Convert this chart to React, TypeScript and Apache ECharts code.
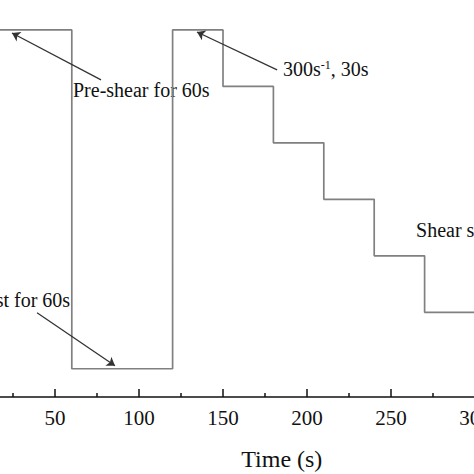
import React, { useEffect, useRef } from 'react';
import * as echarts from 'echarts';

// step protocol: start time of each segment (s) and its shear rate level
const segStart = [0, 60, 120, 150, 180, 210, 240, 270];
const segRate = [300, 0, 300, 250, 200, 150, 100, 50];
const endTime = 300;

// annotations in data units [time, rate]
const arrowTails = [[77.4, 255.8], [182.2, 264.6], [39.3, 49.6]];
const arrowTips = [[24.4, 297.3], [134.5, 298.2], [85.7, 2.7]];

const noteTexts = ['Pre-shear for 60s', '{a|300s}{sup|-1}{a|, 30s}', 'Rest for 60s', 'Shear steps'];
const notePos = [[60.7, 246.9], [185.7, 265.5], [59, 61], [264.9, 123]];
const noteAlign = ['left', 'left', 'right', 'left'];

const xTicks = { min: 0, max: 370, interval: 50 };

const FONT = "'Liberation Serif', 'Times New Roman', serif";

const App: React.FC = () => {
  const chartRef = useRef<HTMLDivElement>(null);

  useEffect(() => {
    if (!chartRef.current) return;
    const chart = echarts.init(chartRef.current, undefined, { renderer: 'svg' });

    const lineData = segStart.map((t, i) => [t, segRate[i]]);
    lineData.push([endTime, segRate[segRate.length - 1]]);

    const arrows = arrowTails.map((tail, i) => [
      { coord: tail, symbol: 'none' },
      { coord: arrowTips[i], symbol: 'arrow' },
    ]);

    const option: any = {
      animation: false,
      backgroundColor: '#fff',
      grid: { left: -29, top: 0, width: 621.6, height: 397, outerBoundsMode: 'none', containLabel: false },
      xAxis: {
        type: 'value',
        min: xTicks.min,
        max: xTicks.max,
        interval: xTicks.interval,
        name: 'Time (s)',
        nameLocation: 'middle',
        nameGap: 50,
        nameTextStyle: { fontFamily: FONT, fontSize: 24, color: '#111' },
        axisLine: { onZero: false, lineStyle: { color: '#111', width: 1.5 } },
        axisTick: { inside: true, length: 8, lineStyle: { color: '#111', width: 1.5 } },
        minorTick: { show: true, splitNumber: 2, length: 4, lineStyle: { color: '#111', width: 1.5 } },
        axisLabel: { fontFamily: FONT, fontSize: 21, color: '#111', margin: 10, showMinLabel: false },
        splitLine: { show: false },
      },
      yAxis: {
        type: 'value',
        min: -25,
        max: 326.5,
        show: false,
      },
      series: [
        {
          type: 'line',
          step: 'end',
          data: lineData,
          symbol: 'none',
          lineStyle: { color: '#808080', width: 1.7 },
          markLine: {
            silent: true,
            symbolSize: 8,
            label: { show: false },
            lineStyle: { color: '#333', width: 1.3, type: 'solid' },
            data: arrows,
          },
        },
      ],
    };

    chart.setOption(option);

    const graphics = noteTexts.map((txt, i) => {
      const [px, py] = chart.convertToPixel({ gridIndex: 0 }, notePos[i]) as number[];
      return {
        type: 'text',
        x: px,
        y: py,
        style: {
          text: txt,
          align: noteAlign[i],
          verticalAlign: 'middle',
          fontFamily: FONT,
          fontSize: 20,
          fill: '#111',
          rich: {
            a: { fontFamily: FONT, fontSize: 20, fill: '#111' },
            sup: { fontFamily: FONT, fontSize: 12, fill: '#111', verticalAlign: 'top', padding: [0, 0, 8, 0] },
          },
        },
      };
    });
    chart.setOption({ graphic: graphics });

    return () => {
      chart.dispose();
    };
  }, []);

  return (
    <div
      ref={chartRef}
      style={{ position: 'fixed', left: 0, top: 0, width: '474px', height: '474px', background: '#fff' }}
    />
  );
};

export default App;
